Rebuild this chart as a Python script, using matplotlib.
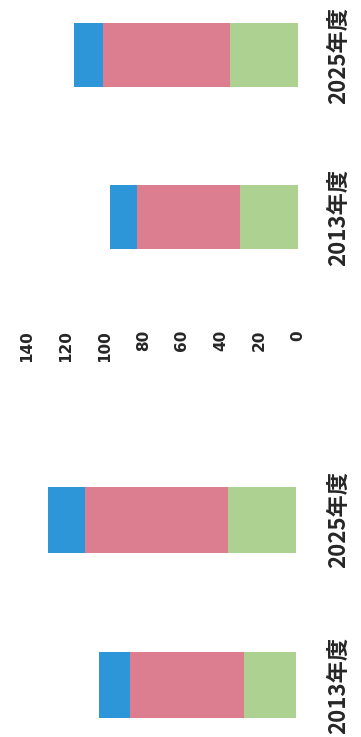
import matplotlib
matplotlib.use("Agg")
import matplotlib.pyplot as plt

plt.rcParams['font.family'] = ['Noto Sans CJK JP', 'DejaVu Sans']

categories = ["2013年度", "2025年度"]
tick_values = [0, 20, 40, 60, 80, 100, 120, 140]

# right panel (top of picture)
right_green = [30, 35]
right_pink = [53, 66]
right_blue = [14, 15]

# left panel (bottom of picture)
left_green = [27, 35]
left_pink = [59, 74]
left_blue = [16, 19]

c_green = "#acd191"
c_pink = "#dc7d90"
c_blue = "#2c96d8"
txt = "#262626"

W, H = 361, 737
fig = plt.figure(figsize=(W / 100, H / 100), dpi=100)


def px_axes(x0, y0, x1, y1):
    return fig.add_axes([x0 / W, 1 - y1 / H, (x1 - x0) / W, (y1 - y0) / H])


def draw(ax, green, pink, blue, zero_px, ylim, show_ticks):
    pos = list(range(len(categories)))
    ax.barh(pos, green, height=0.4, color=c_green)
    base2 = [g for g in green]
    ax.barh(pos, pink, left=base2, height=0.4, color=c_pink)
    base3 = [g + p for g, p in zip(green, pink)]
    ax.barh(pos, blue, left=base3, height=0.4, color=c_blue)
    scale = 1.935
    ax.set_xlim((zero_px - 20) / scale, (zero_px - 310) / scale)
    ax.set_ylim(*ylim)
    for s in ax.spines.values():
        s.set_visible(False)
    ax.yaxis.tick_right()
    ax.set_yticks(pos)
    ax.set_yticklabels(categories, rotation=90, va="center", ha="left",
                       fontsize=16, fontweight="bold", color=txt)
    ax.tick_params(axis="y", length=0, pad=12)
    if show_ticks:
        ax.set_xticks(tick_values)
        ax.set_xticklabels([str(v) for v in tick_values], rotation=90,
                           va="top", ha="center", fontsize=11,
                           fontweight="bold", color=txt,
                           family="DejaVu Sans")
        ax.tick_params(axis="x", length=0, pad=0)
    else:
        ax.set_xticks([])


ax_top = px_axes(20, 0, 310, 330)
draw(ax_top, right_green, right_pink, right_blue, 298,
     (-(330 - 217) / 162, 1 + 55 / 162), True)

ax_bot = px_axes(20, 362, 310, 737)
draw(ax_bot, left_green, left_pink, left_blue, 296,
     (-(737 - 685) / 165, 1 + (520 - 362) / 165), False)

fig.savefig("out.png", dpi=100)
